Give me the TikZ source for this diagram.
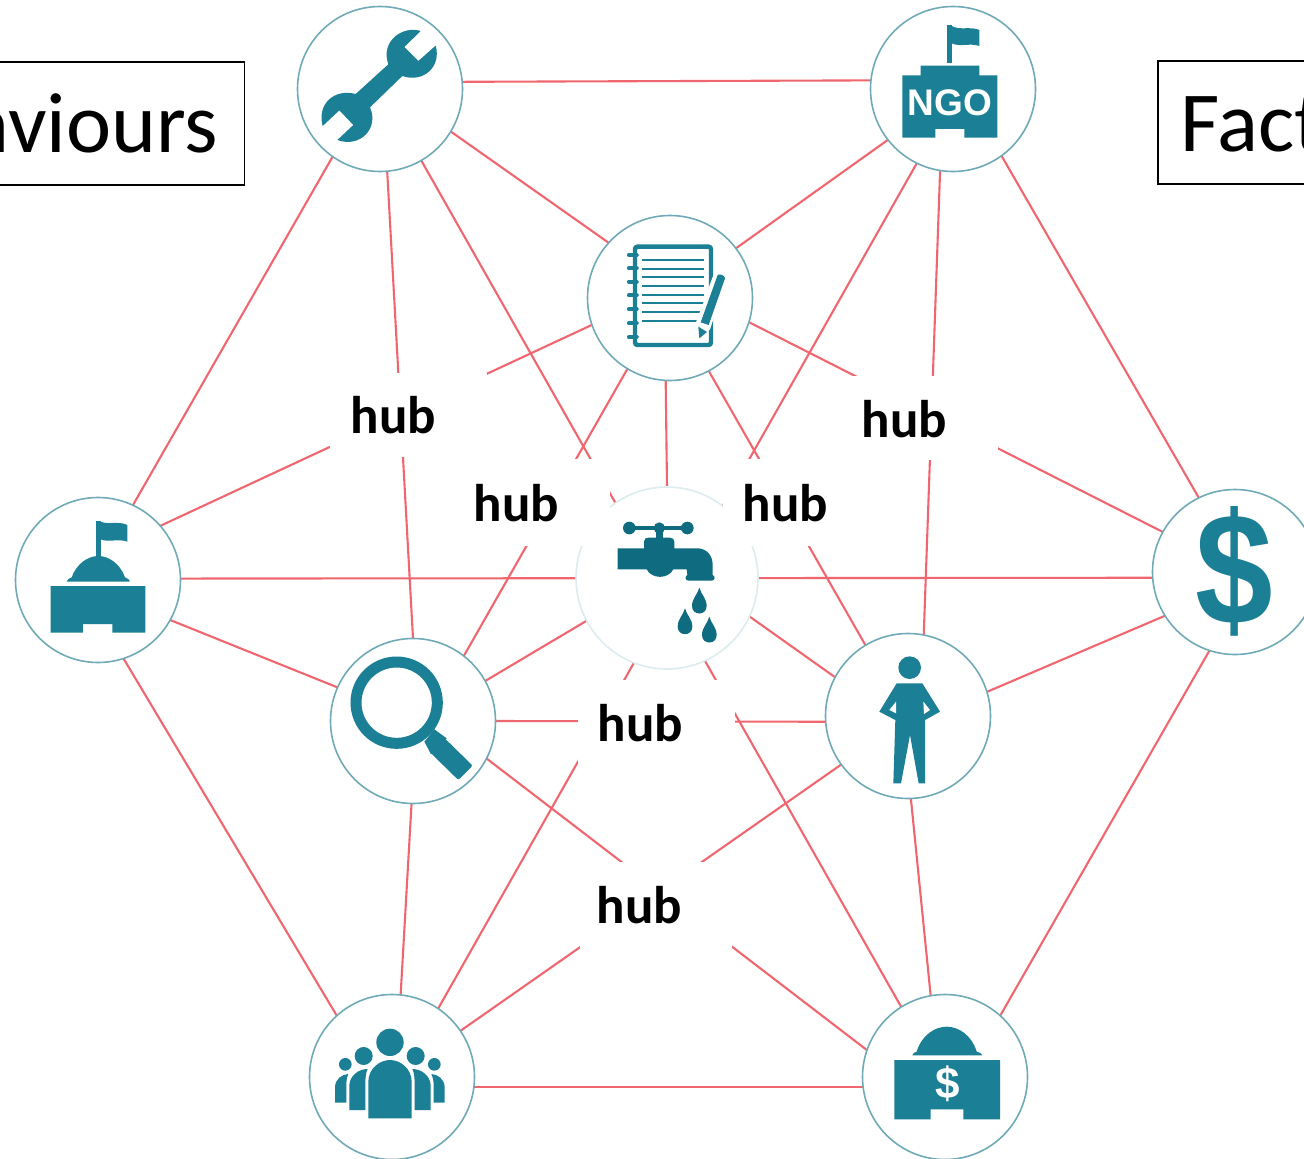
\documentclass[tikz,border=0pt]{standalone}
\usepackage{graphicx}
\usepackage{fontspec}
\setmainfont{Carlito}
\newfontfamily\iconfont{Liberation Sans}
\usetikzlibrary{backgrounds}
\definecolor{teal1}{HTML}{1B7F96}
\definecolor{teal2}{HTML}{0F6C80}
\definecolor{ringc}{HTML}{6FAAB6}
\definecolor{ringp}{HTML}{DCECEF}
\definecolor{linkc}{HTML}{F0666F}
\tikzset{
  x=1pt,y=-1pt,
  hubnode/.style={circle,draw=ringc,line width=1.6pt,fill=white,minimum size=165pt,inner sep=0pt,outer sep=0pt},
  tapnode/.style={circle,draw=ringp,line width=1.6pt,fill=white,minimum size=182pt,inner sep=0pt,outer sep=0pt},
  link/.style={draw=linkc,line width=2.1pt},
  mask/.style={fill=white},
  hubtext/.style={anchor=base,inner sep=0pt,font=\fontsize{53}{60}\selectfont\bfseries},
  sidebox/.style={draw=black,line width=1.5pt,inner ysep=0pt,text height=90pt,text depth=33pt,font=\fontsize{85.5}{95}\selectfont},
  icon/.style={fill=teal1,draw=none},
}
\newcommand{\tapdrop}[2]{\fill[teal2] (#1,#2) .. controls (#1+6,#2+22) and (#1+22,#2+32) .. (#1+22,#2+55) .. controls (#1+22,#2+85) and (#1-22,#2+85) .. (#1-22,#2+55) .. controls (#1-22,#2+32) and (#1-6,#2+22) .. (#1,#2) -- cycle;}
\begin{document}
\begin{tikzpicture}
\useasboundingbox (0,0) rectangle (1304,1159);
\clip (0,0) rectangle (1304,1159);
% circles
\node[hubnode] (wrench) at (380,89) {};
\node[hubnode] (ngo) at (953,89) {};
\node[hubnode] (notebook) at (670,298) {};
\node[tapnode] (tap) at (667,578) {};
\node[hubnode] (gov) at (98,580) {};
\node[hubnode] (dollar) at (1235,572) {};
\node[hubnode] (search) at (413,721) {};
\node[hubnode] (person) at (908,716) {};
\node[hubnode] (people) at (392,1077) {};
\node[hubnode] (bank) at (945,1077) {};
% connectors
\begin{scope}[on background layer]
\fill[white] (0,0) rectangle (1304,1159);
\draw[link] (wrench.5.6) -- (ngo.174.4);
\draw[link] (wrench.235.4) -- (gov.65.6);
\draw[link] (wrench.-31) -- (notebook.138.4);
\draw[link] (wrench.-85.1) -- (search.90.7);
\draw[link] (wrench.-60.3) -- (bank.122);
\draw[link] (ngo.218) -- (notebook.37.1);
\draw[link] (ngo.244.7) -- (people.56.3);
\draw[link] (ngo.261.7) -- (person.79);
\draw[link] (ngo.-54.4) -- (dollar.116.6);
\draw[link] (notebook.199.3) -- (gov.41.6);
\draw[link] (notebook.-17.6) -- (dollar.151.6);
\draw[link] (notebook.239.4) -- (search.52.9);
\draw[link] (notebook.-62.8) -- (person.121);
\draw[link] (notebook.267.9) -- (tap.90);
\draw[link] (gov.1.4) -- (dollar.184.2);
\draw[link] (gov.-29) -- (search.156);
\draw[link] (gov.-72) -- (people.132.6);
\draw[link] (search.29.3) -- (tap.208.8);
\draw[link] (person.152.5) -- (tap.-25.7);
\draw[link] (search.-0.7) -- (person.184.2);
\draw[link] (search.-27.8) -- (bank.161.3);
\draw[link] (search.-91.4) -- (people.84.4);
\draw[link] (person.216.6) -- (people.34.6);
\draw[link] (person.-88.6) -- (bank.100.5);
\draw[link] (person.17.6) -- (dollar.212.3);
\draw[link] (dollar.252.2) -- (bank.48.4);
\draw[link] (people.-7) -- (bank.187);
\end{scope}
% masks behind the hub words
\fill[mask] (330,373) rectangle (487,457);
\fill[mask] (465,459) rectangle (610,546);
\fill[mask] (723,459) rectangle (830,546);
\fill[mask] (830,376) rectangle (998,460);
\fill[mask] (578,680) rectangle (735,768);
\fill[mask] (580,862) rectangle (732,950);
\node[hubtext] (hubA) at (393.5,433) {hub};
\node[hubtext] (hubB) at (516.5,521) {hub};
\node[hubtext] (hubC) at (785.5,521) {hub};
\node[hubtext] (hubD) at (904.5,437) {hub};
\node[hubtext] (hubE) at (640.5,741) {hub};
\node[hubtext] (hubF) at (639.5,923) {hub};
% side boxes
\node[sidebox,anchor=east,inner xsep=26pt] (behaviours) at (245,123.5) {aviours};
\node[sidebox,anchor=west,inner xsep=23pt] (factors) at (1157,122.5) {Fact};
% wrench icon
\begin{scope}[shift={(290,0)},scale=1/3]
\fill[icon] (392,93) .. controls (340,76) and (270,122) .. (295,193) -- (197,282) .. controls (135,265) and (80,310) .. (98,378) -- (148,331) -- (190,375) -- (142,420) .. controls (210,445) and (268,385) .. (240,322) -- (337,228) .. controls (400,250) and (455,200) .. (437,137) -- (385,183) -- (343,141) -- cycle;
\end{scope}
% NGO icon
\begin{scope}[shift={(860,0)},scale=1/3]
\fill[icon] (262,75) rectangle (275,188);
\fill[icon] (275,78) .. controls (300,92) and (330,78) .. (358,90) -- (358,138) .. controls (330,128) and (300,142) .. (275,130) -- cycle;
\fill[icon] (182,197) -- (358,197) -- (358,226) -- (412,226) -- (412,413) -- (313,413) -- (313,387) -- (226,387) -- (226,413) -- (127,413) -- (127,226) -- (182,226) -- cycle;
\node[text=white,inner sep=0pt,font=\iconfont\fontsize{37}{40}\selectfont\bfseries] (ngotext) at (269,308) {NGO};
\end{scope}
% notebook icon
\begin{scope}[shift={(580,210)},scale=1/3]
\draw[teal1,line width=4.4pt,rounded corners=2.5pt] (165,110) rectangle (393,405);
\foreach \y in {135,175,215,256,297,340,381} \draw[teal1,line width=4.2pt,line cap=round] (147,\y) -- (170,\y);
\foreach \y in {150,176,202,228,254,280,306,332} \draw[teal1,line width=2pt] (187,\y) -- (373,\y);
\fill[white] (405,182) -- (444,196) -- (390,358) -- (352,392) -- (345,345) -- cycle;
\fill[teal1] (413,195) .. controls (420,190) and (435,197) .. (435,205) -- (386,345) -- (362,337) -- cycle;
\fill[teal1] (355,350) -- (381,366) -- (358,385) -- cycle;
\end{scope}
% tap icon
\begin{scope}[shift={(570,480)},scale=1/3]
\draw[teal2,line width=4.6pt] (178,144) -- (352,144);
\fill[teal2] (178,144) circle[radius=19] (268,144) circle[radius=17] (352,144) circle[radius=19];
\fill[teal2] (258,144) rectangle (278,180);
\fill[teal2] (143,205) -- (222,205) -- (222,185) .. controls (222,176) and (228,173) .. (235,173) -- (300,173) .. controls (308,173) and (313,178) .. (313,185) -- (313,205) -- (385,205) .. controls (412,207) and (428,228) .. (428,255) -- (428,285) .. controls (436,287) and (436,302) .. (425,302) -- (355,302) .. controls (345,302) and (344,288) .. (352,285) -- (350,268) -- (310,268) .. controls (295,298) and (245,298) .. (230,268) -- (143,268) -- cycle;
\tapdrop{388}{323}
\tapdrop{345}{385}
\tapdrop{418}{410}
\end{scope}
% government icon
\begin{scope}[shift={(10,490)},scale=1/3]
\fill[icon] (258,92) rectangle (272,200);
\fill[icon] (272,95) .. controls (295,105) and (325,92) .. (352,105) -- (352,155) .. controls (325,145) and (295,158) .. (272,148) -- cycle;
\fill[icon] (170,275) .. controls (170,268) and (178,266) .. (185,262) .. controls (200,220) and (235,198) .. (265,198) .. controls (295,198) and (330,220) .. (345,262) .. controls (352,266) and (360,268) .. (360,275) -- cycle;
\fill[icon] (122,288) -- (406,288) -- (406,428) -- (307,428) -- (307,402) -- (219,402) -- (219,428) -- (122,428) -- cycle;
\end{scope}
% magnifier icon
\begin{scope}[shift={(325,630)},scale=1/3]
\draw[teal1,line width=11pt] (215,218) circle[radius=122];
\fill[icon] (328,298) -- (365,325) -- (318,372) -- (298,335) -- cycle;
\fill[teal1,rounded corners=2pt] (350,316) -- (443,407) -- (400,450) -- (310,362) -- cycle;
\end{scope}
% person icon
\begin{scope}[shift={(820,625)},scale=1/3]
\fill[icon] (269,128) circle[radius=34];
\fill[icon] (230,175) -- (307,175) -- (360,260) -- (315,285) -- (315,475) -- (296,475) -- (270,330) -- (243,475) -- (220,475) -- (226,285) -- (178,260) -- cycle;
\fill[white] (228,230) -- (208,255) -- (228,265) -- cycle;
\fill[white] (310,230) -- (330,255) -- (312,267) -- cycle;
\end{scope}
% people icon
\begin{scope}[shift={(300,985)},scale=1/3]
\fill[icon] (270,172) circle[radius=41];
\fill[icon] (205,400) -- (205,290) .. controls (205,250) and (240,225) .. (270,225) .. controls (300,225) and (335,250) .. (335,290) -- (335,400) -- cycle;
\fill[icon] (191,213) circle[radius=27] (347,213) circle[radius=27];
\fill[icon] (148,375) -- (148,300) .. controls (150,272) and (175,252) .. (203,252) .. controls (197,265) and (197,275) .. (196,290) -- (196,375) -- cycle;
\fill[icon] (392,375) -- (392,300) .. controls (390,272) and (365,252) .. (337,252) .. controls (343,265) and (343,275) .. (344,290) -- (344,375) -- cycle;
\fill[icon] (136,238) circle[radius=19] (403,238) circle[radius=19];
\fill[icon] (105,353) -- (105,305) .. controls (107,282) and (125,268) .. (145,267) .. controls (140,278) and (139,290) .. (139,300) -- (139,353) -- cycle;
\fill[icon] (434,353) -- (434,305) .. controls (432,282) and (414,268) .. (394,267) .. controls (399,278) and (401,290) .. (401,300) -- (401,353) -- cycle;
\end{scope}
% bank icon
\begin{scope}[shift={(855,985)},scale=1/3]
\fill[icon] (172,211) .. controls (172,204) and (180,203) .. (185,200) .. controls (200,150) and (240,125) .. (275,125) .. controls (310,125) and (350,150) .. (365,200) .. controls (372,203) and (382,204) .. (382,211) -- cycle;
\fill[icon] (118,225) -- (435,225) -- (435,403) -- (325,403) -- (325,373) -- (227,373) -- (227,403) -- (118,403) -- cycle;
\node[text=white,inner sep=0pt,font=\iconfont\fontsize{44}{48}\selectfont\bfseries] (banktext) at (277,297) {\$};
\end{scope}
% dollar icon
\begin{scope}[shift={(1144,480)},scale=1/3]
\node[text=teal1,inner sep=0pt,font=\iconfont\fontsize{150}{160}\selectfont\bfseries] (dollartext) at (270,275) {\scalebox{0.93}[1.06]{\$}};
\end{scope}
\end{tikzpicture}
\end{document}
